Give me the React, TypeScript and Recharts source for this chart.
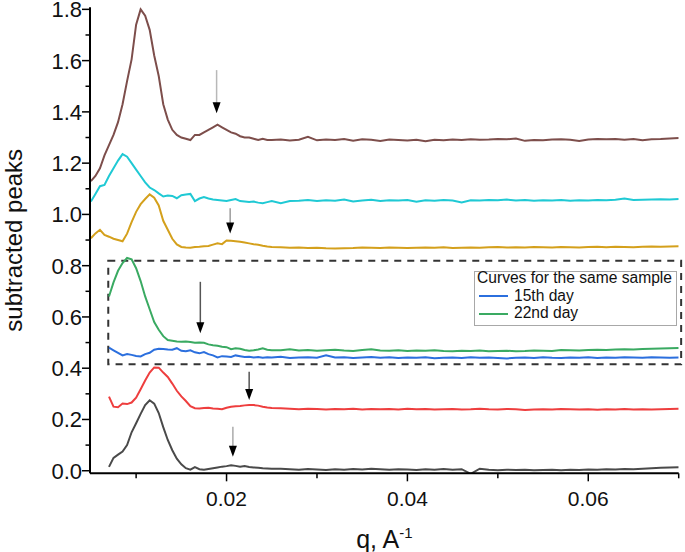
import React from 'react';
import {
  LineChart, Line, XAxis, YAxis, ReferenceArea, ReferenceLine, ReferenceDot, Legend,
} from 'recharts';

const FONT = '"Liberation Sans", Arial, sans-serif';

// q grid (A^-1): fine steps over the peaks, coarser over the flat tail
const q = [
  0.005, 0.0055, 0.006, 0.0065, 0.007, 0.0075, 0.008, 0.0085, 0.009, 0.0095,
  0.010, 0.0105, 0.011, 0.0115, 0.012, 0.0125, 0.013, 0.0135, 0.014, 0.0145,
  0.015, 0.0155, 0.016, 0.0165, 0.017, 0.0175, 0.018, 0.0185, 0.019, 0.0195,
  0.020, 0.0205, 0.021, 0.0215, 0.022, 0.0225, 0.023, 0.0235, 0.024, 0.0245,
  0.025,
  0.026, 0.027, 0.028, 0.029, 0.030, 0.031, 0.032, 0.033, 0.034, 0.035,
  0.036, 0.037, 0.038, 0.039, 0.040, 0.041, 0.042, 0.043, 0.044, 0.045,
  0.046, 0.047, 0.048, 0.049, 0.050, 0.051, 0.052, 0.053, 0.054, 0.055,
  0.056, 0.057, 0.058, 0.059, 0.060, 0.061, 0.062, 0.063, 0.064, 0.065,
  0.066, 0.067, 0.068, 0.069, 0.070,
];

const brown = [
  1.13, 1.15, 1.18, 1.23, 1.27, 1.31, 1.36, 1.43, 1.52, 1.605,
  1.74, 1.80, 1.775, 1.72, 1.62, 1.54, 1.43, 1.37, 1.33, 1.31,
  1.30, 1.295, 1.29, 1.31, 1.31, 1.32, 1.33, 1.34, 1.35, 1.34,
  1.33, 1.32, 1.315, 1.305, 1.30, 1.30, 1.295, 1.29, 1.295, 1.29,
  1.29,
  1.292, 1.288, 1.291, 1.303, 1.289, 1.292, 1.290, 1.294, 1.287, 1.293,
  1.291, 1.286, 1.292, 1.290, 1.288, 1.291, 1.285, 1.291, 1.289, 1.292,
  1.290, 1.293, 1.291, 1.292, 1.294, 1.293, 1.296, 1.287, 1.290, 1.289,
  1.292, 1.293, 1.291, 1.286, 1.292, 1.294, 1.293, 1.294, 1.291, 1.294,
  1.289, 1.293, 1.294, 1.296, 1.298,
];

const cyan = [
  1.05, 1.08, 1.11, 1.115, 1.15, 1.18, 1.21, 1.235, 1.225, 1.20,
  1.175, 1.15, 1.125, 1.105, 1.095, 1.082, 1.07, 1.074, 1.072, 1.063,
  1.075, 1.078, 1.08, 1.052, 1.062, 1.068, 1.062, 1.058, 1.056, 1.054,
  1.052, 1.056, 1.06, 1.052, 1.05, 1.048, 1.05, 1.046, 1.044, 1.048,
  1.052,
  1.044, 1.052, 1.053, 1.056, 1.052, 1.055, 1.053, 1.058, 1.050, 1.054,
  1.057, 1.052, 1.055, 1.054, 1.056, 1.049, 1.055, 1.053, 1.056, 1.054,
  1.047, 1.055, 1.054, 1.056, 1.055, 1.058, 1.054, 1.056, 1.053, 1.055,
  1.054, 1.056, 1.053, 1.055, 1.054, 1.056, 1.055, 1.057, 1.062, 1.056,
  1.057, 1.058, 1.059, 1.058, 1.060,
];

const gold = [
  0.907, 0.926, 0.94, 0.92, 0.913, 0.905, 0.90, 0.895, 0.925, 0.97,
  1.01, 1.04, 1.06, 1.078, 1.065, 1.035, 0.975, 0.94, 0.905, 0.883,
  0.873, 0.871, 0.870, 0.873, 0.874, 0.876, 0.877, 0.882, 0.887, 0.884,
  0.898, 0.897, 0.895, 0.893, 0.89, 0.887, 0.884, 0.882, 0.878, 0.875,
  0.873,
  0.872, 0.870, 0.871, 0.869, 0.870, 0.868, 0.867, 0.868, 0.869, 0.871,
  0.870, 0.869, 0.871, 0.870, 0.869, 0.870, 0.871, 0.870, 0.872, 0.869,
  0.870, 0.871, 0.870, 0.872, 0.873, 0.871, 0.872, 0.871, 0.873, 0.872,
  0.871, 0.873, 0.872, 0.871, 0.873, 0.874, 0.872, 0.874, 0.873, 0.872,
  0.874, 0.875, 0.874, 0.875, 0.876,
];

// same sample: 22nd day (green) and 15th day (blue)
const day22 = [
  null, null, null, null, 0.68, 0.735, 0.78, 0.81, 0.83, 0.825,
  0.79, 0.74, 0.68, 0.63, 0.58, 0.55, 0.525, 0.51, 0.507, 0.504,
  0.503, 0.504, 0.502, 0.499, 0.50, 0.499, 0.493, 0.49, 0.488, 0.484,
  0.482, 0.474, 0.478, 0.476, 0.471, 0.468, 0.470, 0.473, 0.478, 0.472,
  0.47,
  0.470, 0.474, 0.469, 0.471, 0.468, 0.470, 0.472, 0.469, 0.467, 0.471,
  0.474, 0.469, 0.468, 0.470, 0.467, 0.469, 0.468, 0.470, 0.467, 0.466,
  0.468, 0.467, 0.469, 0.466, 0.467, 0.468, 0.466, 0.467, 0.469, 0.468,
  0.467, 0.471, 0.470, 0.469, 0.471, 0.472, 0.471, 0.473, 0.474, 0.473,
  0.475, 0.476, 0.477, 0.478, 0.479,
];

const day15 = [
  null, null, null, null, 0.48, 0.47, 0.46, 0.45, 0.455, 0.452,
  0.448, 0.446, 0.455, 0.46, 0.472, 0.476, 0.475, 0.473, 0.472, 0.478,
  0.468, 0.466, 0.47, 0.462, 0.458, 0.463, 0.455, 0.45, 0.442, 0.447,
  0.446, 0.444, 0.45, 0.447, 0.444, 0.445, 0.442, 0.444, 0.441, 0.443,
  0.442,
  0.445, 0.440, 0.442, 0.443, 0.441, 0.450, 0.442, 0.443, 0.440, 0.442,
  0.444, 0.441, 0.443, 0.440, 0.442, 0.441, 0.443, 0.439, 0.441, 0.442,
  0.440, 0.443, 0.441, 0.442, 0.440, 0.438, 0.441, 0.442, 0.440, 0.443,
  0.441, 0.440, 0.442, 0.441, 0.443, 0.440, 0.442, 0.441, 0.443, 0.442,
  0.441, 0.443, 0.442, 0.441, 0.442,
];

const red = [
  null, null, null, null, 0.289, 0.25, 0.248, 0.262, 0.26, 0.266,
  0.285, 0.318, 0.352, 0.383, 0.403, 0.402, 0.383, 0.366, 0.34, 0.312,
  0.29, 0.272, 0.252, 0.244, 0.243, 0.245, 0.246, 0.243, 0.242, 0.24,
  0.246, 0.25, 0.252, 0.253, 0.255, 0.256, 0.256, 0.254, 0.25, 0.247,
  0.245,
  0.244, 0.242, 0.240, 0.242, 0.241, 0.239, 0.241, 0.240, 0.242, 0.239,
  0.241, 0.240, 0.241, 0.239, 0.242, 0.240, 0.241, 0.239, 0.240, 0.241,
  0.239, 0.240, 0.242, 0.240, 0.239, 0.241, 0.240, 0.237, 0.239, 0.240,
  0.239, 0.241, 0.240, 0.239, 0.240, 0.238, 0.240, 0.239, 0.241, 0.239,
  0.240, 0.239, 0.240, 0.241, 0.242,
];

const gray = [
  null, null, null, null, 0.015, 0.05, 0.063, 0.075, 0.10, 0.15,
  0.185, 0.222, 0.256, 0.275, 0.262, 0.225, 0.17, 0.12, 0.08, 0.047,
  0.025, 0.01, 0.004, 0.014, 0.006, 0.004, 0.007, 0.01, 0.013, 0.016,
  0.018, 0.021, 0.019, 0.016, 0.018, 0.015, 0.013, 0.012, 0.01, 0.009,
  0.008,
  0.008, 0.006, 0.004, 0.007, 0.005, 0.003, 0.006, 0.004, 0.007, 0.005,
  0.008, 0.006, 0.004, 0.006, 0.005, 0.003, 0.006, 0.004, 0.007, 0.004,
  0.006, -0.012, 0.008, 0.004, 0.002, 0.004, 0.003, 0.004, 0.002, 0.003,
  0.004, 0.002, 0.004, 0.003, 0.005, 0.004, 0.006, 0.005, 0.007, 0.006,
  0.008, 0.010, 0.012, 0.013, 0.014,
];

// arrows marking the second-order peaks
const arrowQ = [0.0189, 0.0204, 0.0171, 0.0225, 0.0207];
const arrowFrom = [1.563, 1.024, 0.737, 0.386, 0.172];
const arrowTo = [1.395, 0.926, 0.536, 0.276, 0.055];
const arrowShaft = ['#b8b8b8', '#9c9c9c', '#555555', '#555555', '#ababab'];

const xMajor = [0.02, 0.04, 0.06];
const xMinor = [0.01, 0.03, 0.05, 0.07];
const yMajor = [0, 0.2, 0.4, 0.6, 0.8, 1.0, 1.2, 1.4, 1.6, 1.8];
const yMinor = [0.1, 0.3, 0.5, 0.7, 0.9, 1.1, 1.3, 1.5, 1.7];

const legendKeys = ['day15', 'day22'];

const data = q.map((v, i) => ({
  q: v,
  brown: brown[i],
  cyan: cyan[i],
  gold: gold[i],
  day15: day15[i],
  day22: day22[i],
  red: red[i],
  gray: gray[i],
}));

const isMajor = (list: number[], v: number) => list.some((m) => Math.abs(m - v) < 1e-9);

const XTick = ({ x, y, payload }: any) => {
  const major = isMajor(xMajor, payload.value);
  return (
    <g>
      <line x1={x} x2={x} y1={y} y2={y + (major ? 8 : 5)} stroke="#000" strokeWidth={1.5} />
      {major && (
        <text x={x} y={y + 18} dy="0.71em" textAnchor="middle" fontSize={21} fill="#111" fontFamily={FONT}>
          {payload.value.toFixed(2)}
        </text>
      )}
    </g>
  );
};

const YTick = ({ x, y, payload }: any) => {
  const major = isMajor(yMajor, payload.value);
  return (
    <g>
      <line x1={x - (major ? 8 : 4.5)} x2={x} y1={y} y2={y} stroke="#000" strokeWidth={1.5} />
      {major && (
        <text x={x - 8} y={y} dy="0.36em" textAnchor="end" fontSize={22} fill="#111" fontFamily={FONT}>
          {payload.value.toFixed(1)}
        </text>
      )}
    </g>
  );
};

const YLabel = ({ viewBox }: any) => {
  const cy = viewBox.y + viewBox.height / 2;
  return (
    <text x={22} y={cy} transform={`rotate(-90, 22, ${cy})`} textAnchor="middle" fontSize={24} fill="#111" fontFamily={FONT}>
      subtracted peaks
    </text>
  );
};

const XLabel = ({ viewBox }: any) => {
  const cx = viewBox.x + viewBox.width / 2;
  return (
    <text x={cx} y={548} textAnchor="middle" fontSize={25} fill="#111" fontFamily={FONT}>
      q, A
      <tspan fontSize={15} dy={-10}>-1</tspan>
    </text>
  );
};

const LegendBox = ({ payload }: any) => {
  const items = (payload || []).filter((p: any) => legendKeys.includes(p.dataKey));
  return (
    <div style={{ position: 'relative', width: 203, height: 55, fontFamily: FONT, fontSize: 15.6, color: '#111' }}>
      <div style={{ position: 'absolute', left: 0, top: 0, width: 203, height: 55, boxSizing: 'border-box', border: '1px solid #a8a8a8', background: '#fff' }} />
      <div style={{ position: 'absolute', left: 3, top: -2 }}>
        <div style={{ height: 17.6, lineHeight: '17.6px', whiteSpace: 'nowrap' }}>Curves for the same sample</div>
        {items.map((p: any) => (
          <div key={p.dataKey} style={{ height: 17.6, lineHeight: '17.6px', whiteSpace: 'nowrap' }}>
            <span style={{ display: 'inline-block', verticalAlign: 'middle', width: 29, height: 2, background: p.color, marginLeft: 2, marginRight: 6 }} />
            {p.value}
          </div>
        ))}
      </div>
    </div>
  );
};

const ArrowHead = (props: any) => {
  const { cx, cy } = props;
  return <path d={`M${cx - 4},${cy - 11} L${cx + 4},${cy - 11} L${cx},${cy} Z`} fill="#000" />;
};

export default function App() {
  return (
    <div style={{ position: 'absolute', left: 0, top: 0, background: '#fff' }}>
      <LineChart
        width={685}
        height={552}
        data={data}
        margin={{ top: 7.3, right: 6.3, left: 0, bottom: 38.7 }}
        style={{ fontFamily: FONT }}
      >
        <XAxis
          type="number"
          dataKey="q"
          domain={[0.0049, 0.07]}
          allowDataOverflow
          ticks={[...xMinor, ...xMajor].sort((a, b) => a - b)}
          interval={0}
          tick={<XTick />}
          tickLine={false}
          tickSize={0}
          tickMargin={0}
          height={40}
          axisLine={{ stroke: '#000', strokeWidth: 2 }}
          label={<XLabel />}
        />
        <YAxis
          type="number"
          domain={[-0.01, 1.808]}
          allowDataOverflow
          ticks={[...yMajor, ...yMinor].sort((a, b) => a - b)}
          interval={0}
          tick={<YTick />}
          tickLine={false}
          tickSize={0}
          tickMargin={0}
          width={90}
          axisLine={{ stroke: '#000', strokeWidth: 2 }}
          label={<YLabel />}
        />
        <ReferenceArea
          x1={0.00692}
          x2={0.07027}
          y1={0.415}
          y2={0.819}
          fill="none"
          fillOpacity={0}
          stroke="#333"
          strokeWidth={2}
          strokeDasharray="7 6"
          ifOverflow="visible"
        />
        <Line dataKey="brown" stroke="#7d4e4b" strokeWidth={2} dot={false} legendType="none" isAnimationActive={false} />
        <Line dataKey="cyan" stroke="#1fc9d4" strokeWidth={2} dot={false} legendType="none" isAnimationActive={false} />
        <Line dataKey="gold" stroke="#d4a01c" strokeWidth={2} dot={false} legendType="none" isAnimationActive={false} />
        <Line dataKey="day15" name="15th day" stroke="#2b6fde" strokeWidth={2} dot={false} isAnimationActive={false} />
        <Line dataKey="day22" name="22nd day" stroke="#3aaa62" strokeWidth={2} dot={false} isAnimationActive={false} />
        <Line dataKey="red" stroke="#ee3e3e" strokeWidth={2} dot={false} legendType="none" isAnimationActive={false} />
        <Line dataKey="gray" stroke="#4a4a4a" strokeWidth={2} dot={false} legendType="none" isAnimationActive={false} />
        {arrowQ.map((aq, i) => (
          <ReferenceLine
            key={`s${i}`}
            segment={[{ x: aq, y: arrowFrom[i] }, { x: aq, y: arrowTo[i] + 0.02 }]}
            stroke={arrowShaft[i]}
            strokeWidth={1.5}
          />
        ))}
        {arrowQ.map((aq, i) => (
          <ReferenceDot key={`h${i}`} x={aq} y={arrowTo[i]} r={0} shape={<ArrowHead />} />
        ))}
        <Legend
          layout="horizontal"
          verticalAlign="middle"
          align="center"
          content={<LegendBox />}
          wrapperStyle={{ left: 474, top: 271, width: 203, height: 55 }}
        />
      </LineChart>
    </div>
  );
}
